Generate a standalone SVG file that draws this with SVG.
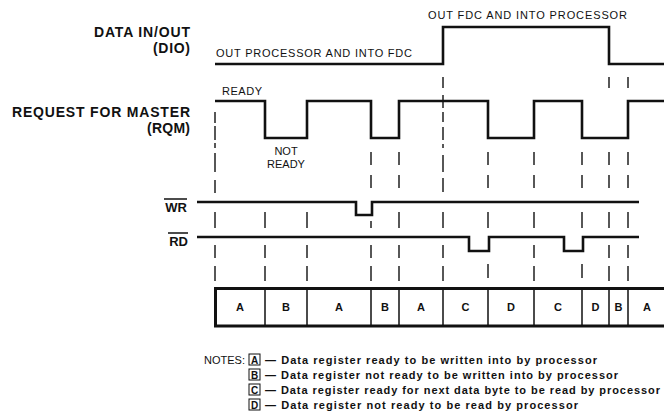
<svg xmlns="http://www.w3.org/2000/svg" width="664" height="418" viewBox="0 0 664 418">
<style>
  text { font-family: "Liberation Sans", Arial, Helvetica, sans-serif; fill: #111; }
  .lbl { font-size: 14px; font-weight: bold; text-anchor: end; }
  .sig { fill: none; stroke: #111; stroke-width: 2.6; stroke-linejoin: miter; }
  .dash { fill: none; stroke: #111; stroke-width: 1.4; }
  .small { font-size: 11px; }
  .cell { font-size: 11px; font-weight: bold; text-anchor: middle; }
  .note { font-size: 11px; font-weight: bold; }
  .nbox { fill: none; stroke: #111; stroke-width: 1; }
  .nl { font-size: 10px; font-weight: bold; text-anchor: middle; }
</style>

<g id="label-dio">
  <text class="lbl" x="190" y="37" textLength="96">DATA IN/OUT</text>
  <text class="lbl" x="190" y="53" textLength="37">(DIO)</text>
</g>
<g id="label-rqm">
  <text class="lbl" x="190" y="117" textLength="178">REQUEST FOR MASTER</text>
  <text class="lbl" x="190" y="133" textLength="43">(RQM)</text>
</g>
<g id="label-wr">
  <text class="lbl" x="187" y="212" style="font-size:13px">WR</text>
  <line x1="164" y1="199" x2="187" y2="199" stroke="#111" stroke-width="1.5"/>
</g>
<g id="label-rd">
  <text class="lbl" x="188" y="246" style="font-size:13px">RD</text>
  <line x1="168" y1="233" x2="188" y2="233" stroke="#111" stroke-width="1.5"/>
</g>

<g id="dio-signal">
  <path class="sig" d="M215,64 H443 V27 H609 V64 H664"/>
  <text class="small" x="216" y="57" textLength="196">OUT PROCESSOR AND INTO FDC</text>
  <text class="small" x="428" y="19" textLength="199">OUT FDC AND INTO PROCESSOR</text>
</g>

<g id="rqm-signal">
  <path class="sig" d="M215,101 H265 V138 H307 V101 H371 V138 H399 V101 H488 V138 H534 V101 H582 V138 H628 V101 H664"/>
  <text class="small" x="222" y="95" textLength="40">READY</text>
  <text class="small" x="286" y="155" text-anchor="middle">NOT</text>
  <text class="small" x="286" y="168" text-anchor="middle">READY</text>
</g>

<g id="wr-signal">
  <path class="sig" d="M197,202 H356 V215 H372 V202 H639"/>
</g>
<g id="rd-signal">
  <path class="sig" d="M197,237 H469 V251 H489 V237 H564 V251 H583 V237 H639"/>
</g>

<g id="connectors">
  <path class="dash" d="M215,112 V123 M215,126 V140 M215,143 V148 M215,153 V172 M215,180 V193"/>
  <path class="dash" d="M443,77 V88 M443,95 V108 M443,112 V122 M443,127 V140 M443,144 V148 M443,155 V172 M443,178 V192"/>
  <path class="dash" d="M609,77 V88 M628,77 V88"/>
  <path class="dash" d="M371,152 V165 M371,175 V188 M399,152 V165 M399,175 V188 M488,152 V165 M488,175 V188 M534,152 V165 M534,175 V188 M582,152 V165 M582,175 V188 M609,152 V165 M609,175 V188 M628,152 V165 M628,175 V188"/>
  <path class="dash" d="M215,212 V228 M265,212 V228 M307,212 V228 M371,221 V228 M399,212 V228 M443,212 V228 M488,212 V228 M534,212 V228 M582,212 V228 M609,212 V228 M628,212 V228"/>
  <path class="dash" d="M215,245 V258 M265,245 V258 M307,245 V258 M371,245 V258 M399,245 V258 M443,245 V258 M534,245 V258 M609,245 V258 M628,245 V258"/>
  <path class="dash" d="M215,266 V281 M265,266 V281 M307,266 V281 M371,266 V281 M399,266 V281 M443,266 V281 M488,264 V278 M534,266 V281 M582,264 V278 M609,266 V281 M628,266 V281"/>
</g>

<g id="state-row">
  <path d="M664,288.5 H215.5 V326 H664" fill="none" stroke="#111" stroke-width="3"/>
  <path d="M265,288 V326 M307,288 V326 M371,288 V326 M399,288 V326 M443,288 V326 M488,288 V326 M534,288 V326 M582,288 V326 M609,288 V326 M628,288 V326" stroke="#111" stroke-width="1.5"/>
  <text class="cell" x="240" y="311">A</text>
  <text class="cell" x="286" y="311">B</text>
  <text class="cell" x="339" y="311">A</text>
  <text class="cell" x="385" y="311">B</text>
  <text class="cell" x="421" y="311">A</text>
  <text class="cell" x="465.5" y="311">C</text>
  <text class="cell" x="511" y="311">D</text>
  <text class="cell" x="558" y="311">C</text>
  <text class="cell" x="595.5" y="311">D</text>
  <text class="cell" x="618.5" y="311">B</text>
  <text class="cell" x="647" y="311">A</text>
</g>

<g id="notes">
  <text class="small" x="204" y="364" textLength="41">NOTES:</text>
  <rect class="nbox" x="249" y="354" width="11" height="11"/>
  <text class="nl" x="254.5" y="363.5">A</text>
  <text class="note" x="265" y="364" textLength="332">— Data register ready to be written into by processor</text>
  <rect class="nbox" x="249" y="369" width="11" height="11"/>
  <text class="nl" x="254.5" y="378.5">B</text>
  <text class="note" x="265" y="379" textLength="353">— Data register not ready to be written into by processor</text>
  <rect class="nbox" x="249" y="384" width="11" height="11"/>
  <text class="nl" x="254.5" y="393.5">C</text>
  <text class="note" x="265" y="394" textLength="395">— Data register ready for next data byte to be read by processor</text>
  <rect class="nbox" x="249" y="399" width="11" height="11"/>
  <text class="nl" x="254.5" y="408.5">D</text>
  <text class="note" x="265" y="409" textLength="313">— Data register not ready to be read by processor</text>
</g>
</svg>
